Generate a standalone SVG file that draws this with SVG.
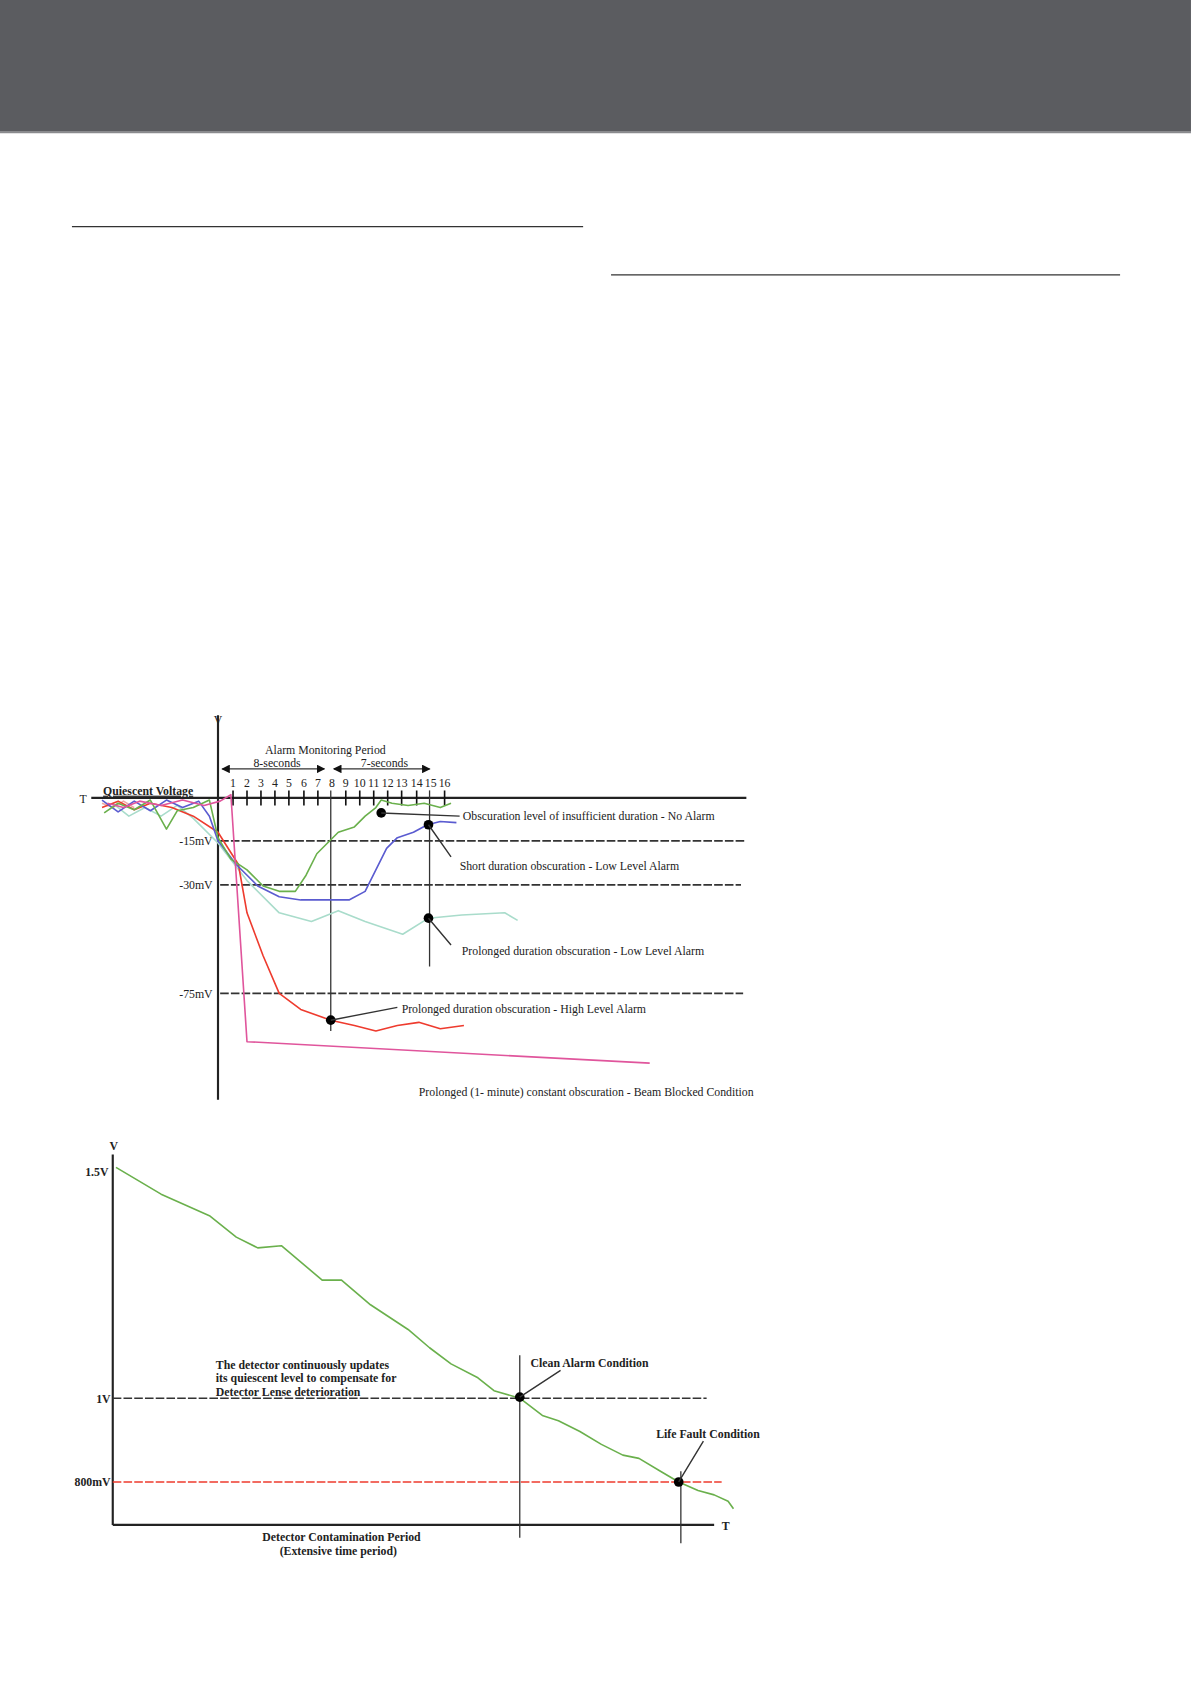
<svg xmlns="http://www.w3.org/2000/svg" width="1191" height="1684" viewBox="0 0 1191 1684">
<style>
text{font-family:"Liberation Serif",serif;font-size:11px;fill:#222}
.b{font-weight:bold}
.ax{stroke:#222;stroke-width:2;fill:none}
.d{stroke:#333;stroke-width:1.5;stroke-dasharray:8 2;fill:none}
.v{stroke:#333;stroke-width:1.2;fill:none}
.c{fill:none;stroke-width:1.5;stroke-linejoin:round}
.l{stroke:#333;stroke-width:1.3}
</style>
<defs><marker id="ah" markerWidth="8" markerHeight="8" refX="7" refY="4" orient="auto-start-reverse" markerUnits="userSpaceOnUse"><path d="M0,0 L8,4 L0,8z" fill="#111"/></marker></defs>
<rect width="1191" height="1684" fill="#fff"/>
<g transform="scale(1.0739)">
<rect x="0" y="0" width="1109" height="123" fill="#5b5c60"/>
<line x1="0" y1="123" x2="1109" y2="123" stroke="#8a8b8e" stroke-width="2"/>
<line x1="67" y1="211" x2="543" y2="211" stroke="#333" stroke-width="1.2"/>
<line x1="569" y1="256" x2="1043" y2="256" stroke="#333" stroke-width="1.2"/>

<g id="chart1">
<line class="ax" x1="203" y1="666" x2="203" y2="1024"/>
<line class="ax" x1="85" y1="743" x2="695" y2="743"/>
<text x="199" y="674">V</text>
<text x="74" y="748">T</text>
<text x="96" y="740" class="b" text-decoration="underline">Quiescent Voltage</text>
<text x="303" y="702" text-anchor="middle">Alarm Monitoring Period</text>
<line class="l" x1="207" y1="716" x2="302" y2="716" marker-start="url(#ah)" marker-end="url(#ah)" stroke-width="2"/>
<line class="l" x1="311" y1="716" x2="400" y2="716" marker-start="url(#ah)" marker-end="url(#ah)" stroke-width="2"/>
<text x="258" y="714" text-anchor="middle" font-size="10">8-seconds</text>
<text x="358" y="714" text-anchor="middle" font-size="10">7-seconds</text>
<g font-size="8" text-anchor="middle">
<text x="217" y="733">1</text><text x="230" y="733">2</text><text x="243" y="733">3</text><text x="256" y="733">4</text><text x="269" y="733">5</text><text x="283" y="733">6</text><text x="296" y="733">7</text><text x="309" y="733">8</text><text x="322" y="733">9</text><text x="335" y="733">10</text><text x="348" y="733">11</text><text x="361" y="733">12</text><text x="374" y="733">13</text><text x="388" y="733">14</text><text x="401" y="733">15</text><text x="414" y="733">16</text>
</g>
<path stroke="#111" stroke-width="1.5" d="M217,736v14M230,736v14M243,736v14M256,736v14M269,736v14M283,736v14M296,736v14M322,736v14M335,736v14M348,736v14M361,736v14M374,736v14M388,736v14M414,736v14"/>
<line class="d" x1="205" y1="783" x2="695" y2="783"/>
<line class="d" x1="205" y1="824" x2="690" y2="824"/>
<line class="d" x1="205" y1="925" x2="692" y2="925"/>
<text x="198" y="787" text-anchor="end">-15mV</text>
<text x="198" y="828" text-anchor="end">-30mV</text>
<text x="198" y="929" text-anchor="end">-75mV</text>
<line class="v" x1="308" y1="736" x2="308" y2="960"/>
<line class="v" x1="400" y1="736" x2="400" y2="900"/>
<path class="c" stroke="#f0a8a4" d="M95,748 L105,752 L115,746 L125,752"/>
<path class="c" stroke="#a9dccb" d="M105,748 L120,760 L135,752 L150,760 L165,750 L180,762 L203,785 L230,820 L260,850 L290,858 L315,848 L340,858 L375,870 L399,855 L430,852 L470,850 L482,857"/>
<path class="c" stroke="#ee3b2e" d="M95,752 L110,746 L125,754 L140,748 L160,752 L180,760 L203,775 L222,805 L230,850 L245,890 L260,925 L280,940 L308,950 L330,955 L350,960 L370,955 L390,952 L410,958 L432,955"/>
<path class="c" stroke="#5a5bd0" d="M95,745 L110,756 L125,746 L140,755 L155,745 L170,752 L185,746 L195,760 L203,783 L220,805 L240,825 L260,835 L280,838 L310,838 L325,838 L340,830 L350,810 L360,790 L370,780 L385,775 L398,768 L410,765 L425,766"/>
<path class="c" stroke="#6ab04c" d="M97,757 L110,748 L125,754 L140,745 L155,772 L165,755 L180,752 L195,745 L203,780 L215,800 L230,810 L245,825 L260,830 L275,830 L285,815 L295,795 L305,785 L315,775 L330,770 L340,760 L350,752 L355,745 L365,748 L380,750 L395,748 L410,752 L420,748"/>
<path class="c" stroke="#e0559c" d="M100,748 L115,752 L130,746 L150,750 L170,745 L190,750 L205,746 L215,740 L230,970 L605,990"/>
<g id="dots1" fill="#000">
<circle cx="355" cy="757" r="4.5"/><circle cx="399" cy="768" r="4.5"/><circle cx="399" cy="855" r="4.5"/><circle cx="308" cy="950" r="4.5"/>
</g>
<path class="l" fill="none" d="M355,757 L428,760 M399,768 L420,798 M399,855 L420,880 M308,950 L370,938"/>
<text x="431" y="764" fill="#5fa83a" font-size="10.5">Obscuration level of insufficient duration - No Alarm</text>
<text x="428" y="810" fill="#4b4cc4" font-size="10.5">Short duration obscuration - Low Level Alarm</text>
<text x="430" y="889" fill="#a9dccb" font-size="10.5">Prolonged duration obscuration - Low Level Alarm</text>
<text x="374" y="943" fill="#ee3b2e" font-size="10.5">Prolonged duration obscuration - High Level Alarm</text>
<text x="390" y="1021" fill="#d85aa6" font-size="10.5">Prolonged  (1- minute) constant obscuration - Beam Blocked Condition</text>
</g>

<g id="chart2">
<line class="ax" x1="105" y1="1075" x2="105" y2="1420"/>
<line class="ax" x1="105" y1="1420" x2="665" y2="1420"/>
<text x="102" y="1071" class="b" font-size="10">V</text>
<text x="672" y="1425" class="b" font-size="10">T</text>
<text x="101" y="1095" text-anchor="end" class="b" font-size="10">1.5V</text>
<text x="103" y="1306" text-anchor="end" class="b" font-size="10">1V</text>
<text x="103" y="1384" text-anchor="end" class="b" font-size="10">800mV</text>
<line class="d" x1="105" y1="1302" x2="658" y2="1302" stroke-width="1.2"/>
<line x1="105" y1="1380" x2="672" y2="1380" stroke="#ee3b2e" stroke-width="1.2" stroke-dasharray="8 2"/>
<line class="v" x1="484" y1="1262" x2="484" y2="1432"/>
<line class="v" x1="634" y1="1370" x2="634" y2="1437"/>
<path class="c" stroke="#6ab04c" d="M108,1087 L150,1112 L195,1132 L220,1152 L240,1162 L262,1160 L300,1192 L318,1192 L345,1215 L380,1238 L400,1255 L420,1270 L445,1283 L460,1295 L484,1302 L505,1318 L520,1323 L540,1333 L560,1345 L580,1355 L595,1358 L615,1370 L632,1380 L650,1388 L665,1392 L678,1398 L683,1405"/>
<circle cx="484" cy="1301" r="4.5" fill="#000"/>
<circle cx="632" cy="1380" r="4.5" fill="#000"/>
<path class="l" d="M484,1301 L522,1276 M632,1380 L655,1342"/>
<text x="494" y="1273" class="b" font-size="10.5">Clean Alarm Condition</text>
<text x="611" y="1339" class="b" font-size="10.5">Life Fault Condition</text>
<text x="201" y="1275" class="b" font-size="9.5">The detector continuously updates</text>
<text x="201" y="1287" class="b" font-size="9.5">its quiescent level to compensate for</text>
<text x="201" y="1300" class="b" font-size="9.5">Detector Lense deterioration</text>
<text x="318" y="1435" class="b" font-size="10.5" text-anchor="middle">Detector Contamination Period</text>
<text x="315" y="1448" class="b" font-size="9.5" text-anchor="middle">(Extensive time period)</text>
</g>
</g>
</svg>
